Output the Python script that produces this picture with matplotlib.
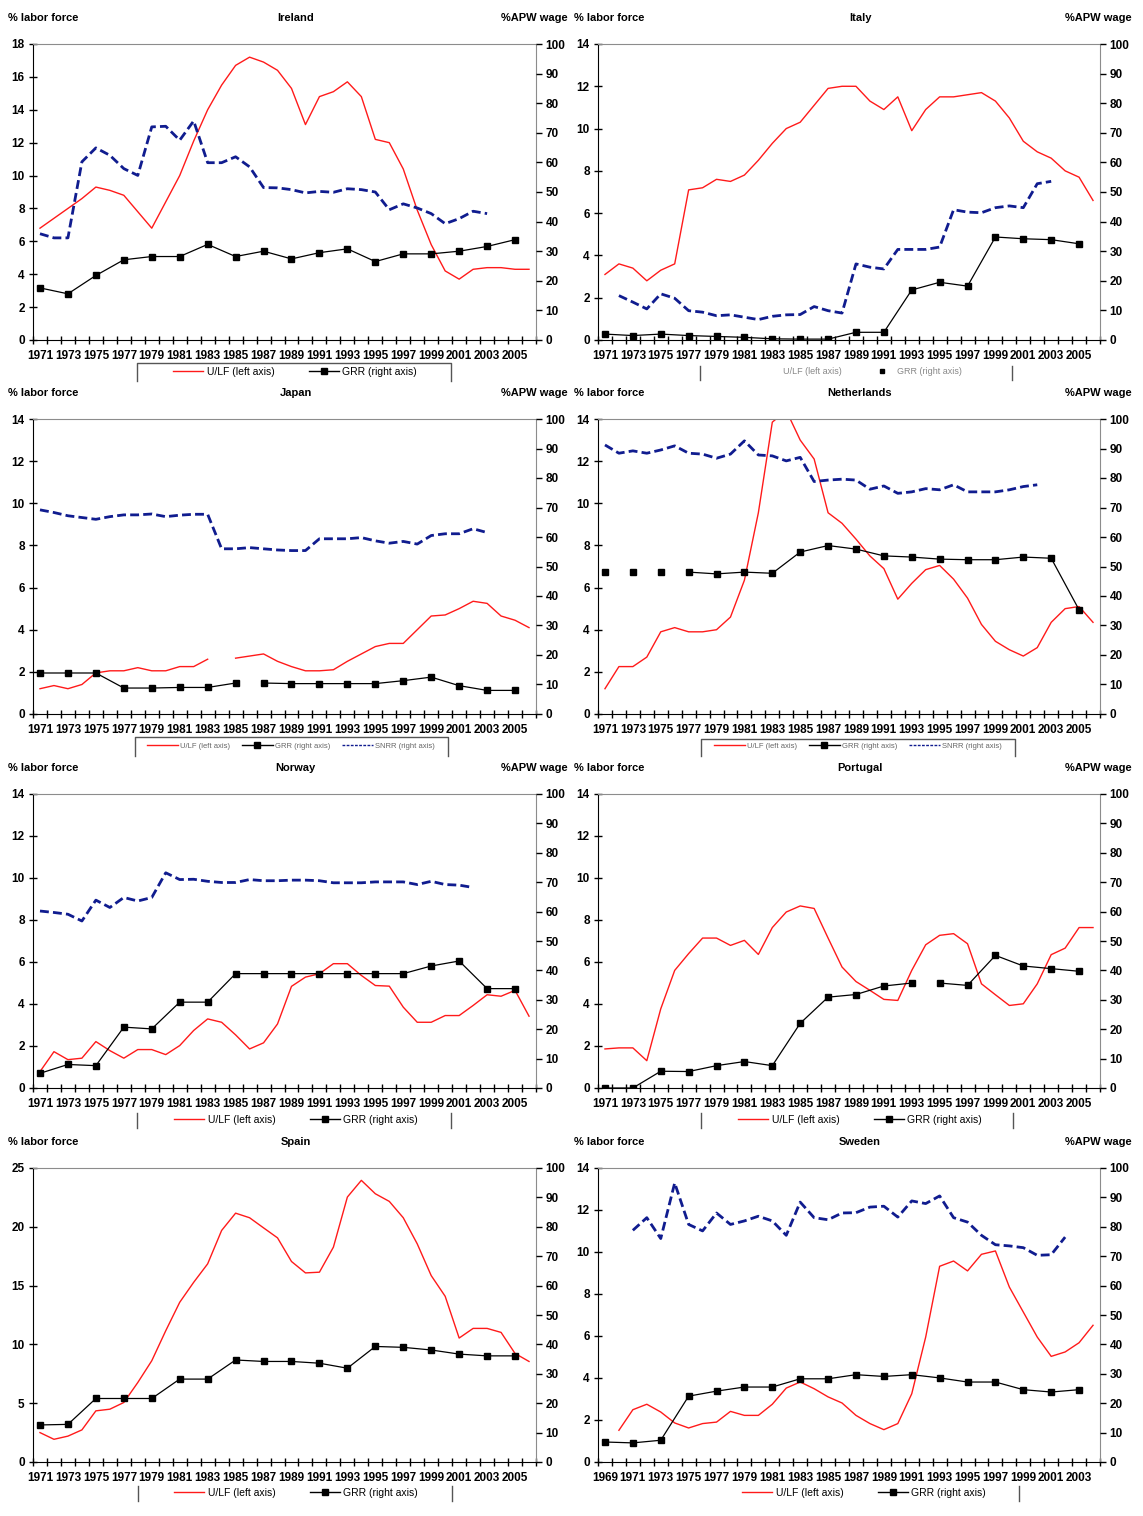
import numpy as np
import matplotlib
matplotlib.use("Agg")
import matplotlib.pyplot as plt
from matplotlib.lines import Line2D

plt.rcParams["font.family"] = ["Liberation Sans", "DejaVu Sans"]

# ---- data ----
# U/LF, left axis, one value per year
IRL_ULF = [6.8, 7.4, 8.0, 8.6, 9.3, 9.1, 8.8, 7.8, 6.8, 8.4,
           10.0, 12.1, 14.0, 15.5, 16.7, 17.2, 16.9, 16.4, 15.3, 13.1,
           14.8, 15.1, 15.7, 14.8, 12.2, 12.0, 10.4, 7.9, 5.8, 4.2,
           3.7, 4.3, 4.4, 4.4, 4.3, 4.3]
ITA_ULF = [3.1, 3.6, 3.4, 2.8, 3.3, 3.6, 7.1, 7.2, 7.6, 7.5,
           7.8, 8.5, 9.3, 10.0, 10.3, 11.1, 11.9, 12.0, 12.0, 11.3,
           10.9, 11.5, 9.9, 10.9, 11.5, 11.5, 11.6, 11.7, 11.3, 10.5,
           9.4, 8.9, 8.6, 8.0, 7.7, 6.6]
JPN_ULF = [1.2, 1.35, 1.2, 1.4, 1.95, 2.05, 2.05, 2.2, 2.05, 2.05,
           2.25, 2.25, 2.6, None, 2.65, 2.75, 2.85, 2.5, 2.25, 2.05,
           2.05, 2.1, 2.5, 2.85, 3.2, 3.35, 3.35, 4.0, 4.65, 4.7,
           5.0, 5.35, 5.25, 4.65, 4.45, 4.1]
NLD_ULF = [1.2, 2.25, 2.25, 2.7, 3.9, 4.1, 3.9, 3.9, 4.0, 4.6,
           6.35, 9.55, 13.85, 14.4, 13.0, 12.1, 9.55, 9.05, 8.3, 7.5,
           6.9, 5.45, 6.2, 6.85, 7.05, 6.4, 5.5, 4.25, 3.45, 3.05,
           2.75, 3.15, 4.35, 5.0, 5.1, 4.35]
NOR_ULF = [0.78, 1.73, 1.35, 1.42, 2.21, 1.78, 1.42, 1.83, 1.83, 1.59,
           2.02, 2.74, 3.29, 3.13, 2.53, 1.86, 2.15, 3.05, 4.84, 5.28,
           5.44, 5.92, 5.92, 5.36, 4.88, 4.85, 3.85, 3.13, 3.13, 3.45,
           3.45, 3.93, 4.44, 4.37, 4.65, 3.42]
PRT_ULF = [1.86, 1.91, 1.91, 1.30, 3.77, 5.6, 6.4, 7.14, 7.14, 6.79,
           7.03, 6.36, 7.64, 8.38, 8.67, 8.55, 7.14, 5.76, 5.07, 4.65,
           4.22, 4.17, 5.6, 6.82, 7.27, 7.35, 6.87, 4.96, 4.44, 3.93,
           4.01, 4.96, 6.35, 6.66, 7.64, 7.64]
ESP_ULF = [2.5, 1.93, 2.2, 2.73, 4.35, 4.49, 5.06, 6.76, 8.61, 11.16,
           13.58, 15.28, 16.85, 19.69, 21.16, 20.77, 19.91, 19.06, 17.05, 16.08,
           16.14, 18.27, 22.53, 23.95, 22.81, 22.16, 20.77, 18.55, 15.85, 14.09,
           10.54, 11.36, 11.36, 11.02, 9.23, 8.55]
SWE_ULF = [1.51, 2.49, 2.75, 2.38, 1.86, 1.62, 1.83, 1.9, 2.41, 2.22,
           2.22, 2.75, 3.52, 3.81, 3.49, 3.1, 2.81, 2.22, 1.83, 1.54,
           1.83, 3.25, 5.95, 9.32, 9.57, 9.1, 9.89, 10.05, 8.33, 7.14,
           5.95, 5.03, 5.24, 5.68, 6.51]

# SNRR, right axis, one value per year
IRL_SNRR = [35.9, 34.5, 34.5, 60.2, 64.9, 62.4, 57.9, 55.6, 72.0, 72.2,
            67.5, 74.0, 59.9, 59.9, 61.9, 58.5, 51.5, 51.4, 50.8, 49.7,
            50.2, 49.9, 51.1, 50.8, 50.0, 44.0, 46.0, 44.6, 42.7, 39.3,
            41.0, 43.5, 42.7]
ITA_SNRR = [15.0, 12.8, 10.5, 15.6, 14.1, 9.9, 9.4, 8.2, 8.5, 7.7,
            6.9, 8.0, 8.5, 8.6, 11.3, 9.9, 9.1, 25.7, 24.6, 24.0,
            30.6, 30.6, 30.6, 31.4, 44.0, 43.2, 43.0, 44.7, 45.3, 44.7,
            52.8, 53.6]
JPN_SNRR = [69.2, 68.3, 67.2, 66.6, 66.0, 66.9, 67.5, 67.5, 67.8, 66.9,
            67.4, 67.7, 67.7, 56.0, 56.0, 56.4, 56.0, 55.6, 55.4, 55.4,
            59.4, 59.4, 59.4, 59.8, 58.7, 57.9, 58.5, 57.6, 60.5, 61.1,
            61.1, 62.8, 61.5]
NLD_SNRR = [91.2, 88.4, 89.2, 88.4, 89.5, 90.9, 88.4, 88.1, 86.7, 88.1,
            92.6, 87.8, 87.5, 85.8, 87.0, 78.8, 79.3, 79.6, 79.3, 76.2,
            77.3, 74.8, 75.3, 76.4, 76.0, 77.7, 75.3, 75.3, 75.3, 76.0,
            77.1, 77.7]
NOR_SNRR = [60.2, 59.7, 59.1, 56.8, 63.9, 61.4, 64.8, 63.6, 64.8, 73.2,
            70.9, 71.0, 70.3, 69.9, 69.9, 70.9, 70.5, 70.5, 70.7, 70.7,
            70.5, 69.8, 69.8, 69.8, 70.1, 70.1, 70.1, 69.2, 70.3, 69.2,
            69.0, 68.2]
SWE_SNRR = [78.8, 83.1, 76.0, 94.9, 80.8, 78.6, 84.7, 80.8, 82.0, 83.6,
            82.0, 77.1, 88.4, 83.1, 82.4, 84.7, 84.8, 86.7, 87.0, 83.3,
            88.8, 87.9, 90.5, 83.1, 81.6, 77.1, 73.9, 73.5, 72.9, 70.3,
            70.5, 76.5]

# GRR, right axis, every second year
IRL_GRR = [17.6, 15.6, 21.8, 27.1, 28.2, 28.2, 32.3, 28.2, 30.0, 27.4,
           29.5, 30.8, 26.5, 29.1, 29.1, 30.0, 31.6, 33.9]
ITA_GRR = [2.0, 1.5, 2.0, 1.5, 1.2, 0.9, 0.4, 0.3, 0.3, 2.6,
           2.6, 16.9, 19.5, 18.2, 34.8, 34.2, 33.9, 32.5]
JPN_GRR = [13.9, 13.9, 13.9, 8.8, 8.8, 9.0, 9.0, 10.5, 10.5, 10.3,
           10.3, 10.3, 10.3, 11.3, 12.5, 9.6, 8.0, 8.0]
NLD_GRR = [48.1, 48.1, 48.1, 48.1, 47.5, 48.1, 47.7, 54.9, 57.1, 55.9,
           53.6, 53.2, 52.5, 52.3, 52.3, 53.2, 52.8, 35.3]
NOR_GRR = [5.0, 8.0, 7.6, 20.7, 20.1, 29.2, 29.2, 38.9, 38.9, 38.9,
           38.9, 38.9, 38.9, 38.9, 41.5, 43.2, 33.8, 33.8]
PRT_GRR = [0.0, 0.0, 5.7, 5.6, 7.6, 9.0, 7.6, 22.0, 30.9, 31.8,
           34.7, 35.7, 35.7, 34.9, 45.1, 41.5, 40.6, 39.7]
ESP_GRR = [12.6, 12.8, 21.6, 21.6, 21.6, 28.2, 28.2, 34.7, 34.2, 34.2,
           33.6, 31.9, 39.3, 39.0, 38.1, 36.7, 36.1, 36.1]
SWE_GRR = [6.8, 6.5, 7.4, 22.4, 24.1, 25.5, 25.5, 28.3, 28.3, 29.7,
           29.1, 29.7, 28.6, 27.2, 27.2, 24.6, 23.8, 24.6]

RED = "#ff1a1a"
BLUE = "#101c8f"
GREY = "#8c8c8c"
W, H = 1143, 1516

PANELS = [
    dict(name="Ireland", first=1971, ulf=IRL_ULF, ulf0=1971, snrr=IRL_SNRR, snrr0=1971,
         grr=IRL_GRR, ymax=18, ystep=2, leg="two", frame="box", lc=(295, 372), fr=(137, 451, 363, 381)),
    dict(name="Italy", first=1971, ulf=ITA_ULF, ulf0=1971, snrr=ITA_SNRR, snrr0=1972,
         grr=ITA_GRR, ymax=14, ystep=2, leg="italy", frame="bars", lc=(858, 372), fr=(700, 1012, 366, 380)),
    dict(name="Japan", first=1971, ulf=JPN_ULF, ulf0=1971, snrr=JPN_SNRR, snrr0=1971,
         grr=JPN_GRR, grr_break=1985, ymax=14, ystep=2, leg="three", frame="box", lc=(291, 746), fr=(135, 448, 737, 756)),
    dict(name="Netherlands", first=1971, ulf=NLD_ULF, ulf0=1971, snrr=NLD_SNRR, snrr0=1971,
         grr=NLD_GRR, grr_line_from=3, ymax=14, ystep=2, leg="three", frame="box", lc=(858, 746), fr=(701, 1015, 739, 756)),
    dict(name="Norway", first=1971, ulf=NOR_ULF, ulf0=1971, snrr=NOR_SNRR, snrr0=1971,
         grr=NOR_GRR, ymax=14, ystep=2, leg="two", frame="bars", lc=(296, 1120), fr=(137, 451, 1113, 1128)),
    dict(name="Portugal", first=1971, ulf=PRT_ULF, ulf0=1971, snrr=None, snrr0=None,
         grr=PRT_GRR, grr_break=1993, ymax=14, ystep=2, leg="two", frame="bars", lc=(860, 1120), fr=(701, 1013, 1113, 1128)),
    dict(name="Spain", first=1971, ulf=ESP_ULF, ulf0=1971, snrr=None, snrr0=None,
         grr=ESP_GRR, ymax=25, ystep=5, leg="two", frame="bars", lc=(296, 1493), fr=(138, 452, 1486, 1501), noapw=True),
    dict(name="Sweden", first=1969, ulf=SWE_ULF, ulf0=1970, snrr=SWE_SNRR, snrr0=1971,
         grr=SWE_GRR, ymax=14, ystep=2, leg="two", frame="rbar", lc=(864, 1493), fr=(1019, 1019, 1486, 1501)),
]

COLS = [(33, 536), (598, 1100)]
ROWS = [(44, 340), (419, 714), (794, 1088), (1168, 1462)]


def fx(px):
    return px / W


def fy(py):
    return 1 - py / H


fig = plt.figure(figsize=(W / 100, H / 100), dpi=100)

for i, p in enumerate(PANELS):
    row, col = divmod(i, 2)
    l, r = COLS[col]
    t, b = ROWS[row]
    ax = fig.add_axes([fx(l), fy(b), (r - l) / W, (b - t) / H])
    ax2 = ax.twinx()

    first = p["first"]
    ax.set_xlim(first - 0.5, first + 35.5)
    ax.set_ylim(0, p["ymax"])
    ax2.set_ylim(0, 100)

    # lines
    ulf = np.array(p["ulf"], dtype=float)
    ax.plot(np.arange(p["ulf0"], p["ulf0"] + len(ulf)), ulf, color=RED, lw=1.0)
    if p["snrr"] is not None:
        sn = np.array(p["snrr"], dtype=float)
        ax2.plot(np.arange(p["snrr0"], p["snrr0"] + len(sn)), sn, color=BLUE, lw=2.0,
                 dashes=(3.2, 1.5))
    gx = list(range(first, first + 2 * len(p["grr"]), 2))
    gy = list(p["grr"])
    if p.get("grr_break"):
        k = gx.index(p["grr_break"]) + 1
        gx.insert(k, p["grr_break"] + 1)
        gy.insert(k, None)
    gx = np.array(gx, dtype=float)
    gy = np.array(gy, dtype=float)
    k0 = p.get("grr_line_from", 0)
    ax2.plot(gx[k0:], gy[k0:], color="black", lw=0.9)
    ax2.plot(gx, gy, ls="none", marker="s", ms=4.5, color="black")

    # spines
    for s in ("left", "bottom"):
        ax.spines[s].set_color("black")
    for s in ("top", "right"):
        ax.spines[s].set_color(GREY)
    for s in ax2.spines.values():
        s.set_visible(False)

    # x axis
    ax.set_xticks(np.arange(first, first + 36, 2))
    ax.set_xticklabels([str(y) for y in range(first, first + 36, 2)])
    ax.set_xticks(np.arange(first - 0.5, first + 36, 1), minor=True)
    ax.tick_params(axis="x", which="major", length=0, pad=7, labelsize=8.5)
    ax.tick_params(axis="x", which="minor", direction="inout", length=6, width=1)

    # y axes
    ax.set_yticks(np.arange(0, p["ymax"] + 0.01, p["ystep"]))
    ax.set_yticklabels([str(int(v)) for v in np.arange(0, p["ymax"] + 0.01, p["ystep"])])
    ax.tick_params(axis="y", direction="inout", length=6, width=1, pad=3, labelsize=8.5)
    ax2.set_yticks(np.arange(0, 101, 10))
    ax2.tick_params(axis="y", direction="out", length=4, width=1, pad=3, labelsize=8.5)
    for lab in ax.get_xticklabels() + ax.get_yticklabels() + ax2.get_yticklabels():
        lab.set_fontweight("bold")

    # header texts
    ty = t - 26
    fig.text(fx(8 if col == 0 else 574), fy(ty), "% labor force", fontsize=8,
             fontweight="bold", ha="left", va="center")
    fig.text(fx((l + r) / 2 + 11), fy(ty), p["name"], fontsize=8,
             fontweight="bold", ha="center", va="center")
    if not p.get("noapw"):
        fig.text(fx(568 if col == 0 else 1132), fy(ty), "%APW wage", fontsize=8,
                 fontweight="bold", ha="right", va="center")

    # legend
    h_ulf = Line2D([], [], color=RED, lw=1)
    h_grr = Line2D([], [], color="black", lw=1, marker="s", ms=4)
    if p["leg"] == "two":
        handles = [h_ulf, h_grr]
        labels = ["U/LF (left axis)", "GRR (right axis)"]
        fs, tc, hl, cs = 7.5, "black", 2.9, 3.3
    elif p["leg"] == "three":
        h_sn = Line2D([], [], color=BLUE, lw=1, ls=(0, (2, 1)))
        handles = [h_ulf, h_grr, h_sn]
        labels = ["U/LF (left axis)", "GRR (right axis)", "SNRR (right axis)"]
        fs, tc, hl, cs = 5.5, "#666666", 4.0, 1.6
    else:
        handles = [Line2D([], [], color="none"),
                   Line2D([], [], color="black", ls="none", marker="s", ms=3.5)]
        labels = ["U/LF (left axis)", "GRR (right axis)"]
        fs, tc, hl, cs = 6.5, "#888888", 2.9, 3.0
    leg = ax.legend(handles, labels, loc="center", ncol=len(handles),
                    bbox_to_anchor=(fx(p["lc"][0]), fy(p["lc"][1])),
                    bbox_transform=fig.transFigure, frameon=False, fontsize=fs,
                    handlelength=hl, handletextpad=0.3, columnspacing=cs,
                    borderpad=0, borderaxespad=0)
    for txt in leg.get_texts():
        txt.set_color(tc)

    fl, frr, ft, fb = p["fr"]
    if p["frame"] == "box":
        fig.add_artist(Line2D([fx(fl), fx(fl), fx(frr), fx(frr)], [fy(fb), fy(ft), fy(ft), fy(fb)],
                              transform=fig.transFigure, color="#555555", lw=1))
    elif p["frame"] == "bars":
        for xx in (fl, frr):
            fig.add_artist(Line2D([fx(xx), fx(xx)], [fy(fb), fy(ft)],
                                  transform=fig.transFigure, color="#555555", lw=1))
    else:
        fig.add_artist(Line2D([fx(frr), fx(frr)], [fy(fb), fy(ft)],
                              transform=fig.transFigure, color="#555555", lw=1))

fig.savefig("out.png", dpi=100)
